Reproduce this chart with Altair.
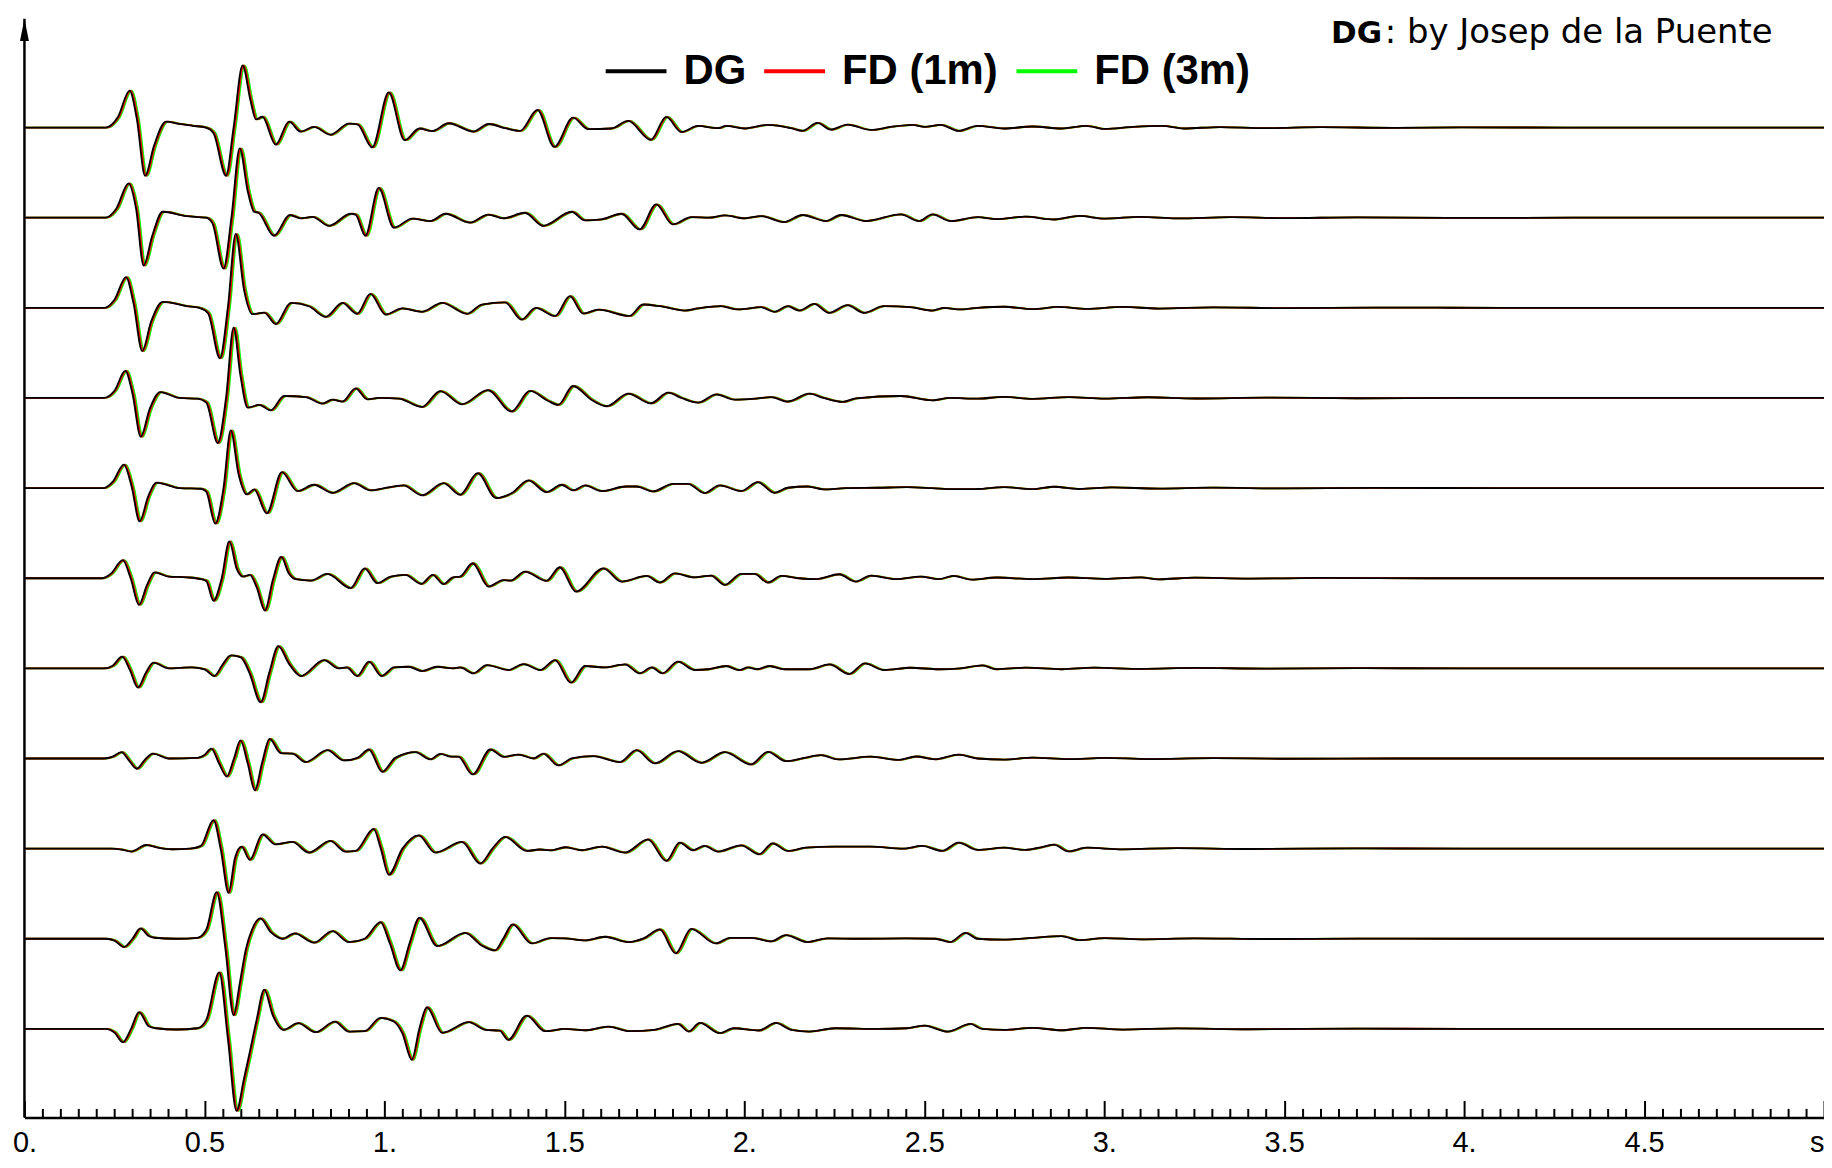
import altair as alt
import pandas as pd

# ---------------- values ----------------
SERIES = ["DG", "FD (1m)", "FD (3m)"]
COLORS = ["#000000", "#ff0000", "#00ff00"]
# apparent delay of each series behind DG (s)
SERIES_LAG = [0.0, 0.003, 0.006]

X_LABEL_VALUES = [0, 0.5, 1, 1.5, 2, 2.5, 3, 3.5, 4, 4.5, 5]
X_MINOR_TICKS = [round(0.05 * i, 2) for i in range(101)]

# traces, top to bottom: (time s, amplitude in trace-spacing units)
TRACE_01 = [(0, 0), (0.225, 0), (0.26, 0.12), (0.292, 0.41), (0.312, 0.1), (0.335, -0.535), (0.36, -0.2),
            (0.393, 0.066), (0.43, 0.04), (0.467, 0.02), (0.504, 0.0), (0.525, -0.06), (0.56, -0.535),
            (0.581, 0.0), (0.606, 0.69), (0.628, 0.3), (0.643, 0.09), (0.661, 0.12), (0.698, -0.19),
            (0.735, 0.066), (0.767, -0.044), (0.804, 0.007), (0.85, -0.08), (0.901, 0.044), (0.925, 0.035),
            (0.966, -0.22), (1.012, 0.39), (1.056, -0.14), (1.097, -0.01), (1.132, -0.04), (1.178, 0.048),
            (1.247, -0.044), (1.289, 0.04), (1.335, -0.007), (1.377, -0.037), (1.425, 0.196), (1.472, -0.214),
            (1.524, 0.11), (1.566, -0.018), (1.63, -0.01), (1.677, 0.074), (1.74, -0.137), (1.783, 0.118),
            (1.825, -0.048), (1.871, 0.018), (1.926, -0.007), (1.949, 0.018), (2.0, -0.01), (2.065, 0.03),
            (2.13, -0.007), (2.161, -0.037), (2.203, 0.052), (2.24, -0.022), (2.286, 0.033), (2.351, -0.026),
            (2.406, 0.007), (2.467, 0.03), (2.5, 0.007), (2.545, 0.03), (2.595, -0.037), (2.647, 0.018),
            (2.72, -0.01), (2.8, 0.012), (2.88, -0.01), (2.95, 0.02), (3.0, -0.015), (3.08, 0.008),
            (3.16, 0.018), (3.22, -0.01), (3.32, 0.006), (3.45, -0.006), (3.6, 0.005), (3.8, -0.003),
            (4.0, 0.002), (4.3, 0.0), (5.0, 0.0)]
TRACE_02 = [(0, 0), (0.225, 0), (0.255, 0.1), (0.289, 0.38), (0.31, 0.1), (0.331, -0.53), (0.355, -0.2),
            (0.384, 0.066), (0.449, 0.018), (0.504, 0.0), (0.522, -0.06), (0.553, -0.565), (0.575, 0.0),
            (0.598, 0.77), (0.62, 0.3), (0.638, 0.066), (0.65, 0.055), (0.693, -0.2), (0.737, 0.03),
            (0.767, -0.007), (0.8, 0.01), (0.846, -0.09), (0.906, 0.044), (0.92, 0.035), (0.947, -0.2),
            (0.984, 0.33), (1.026, -0.11), (1.077, -0.01), (1.127, -0.037), (1.169, 0.044), (1.238, -0.055),
            (1.288, 0.035), (1.33, -0.007), (1.39, 0.055), (1.441, -0.09), (1.52, 0.066), (1.557, -0.03),
            (1.603, -0.018), (1.658, 0.044), (1.709, -0.13), (1.755, 0.148), (1.801, -0.074), (1.852, 0.007),
            (1.9, 0.0), (1.945, 0.026), (2.0, -0.007), (2.046, 0.018), (2.11, -0.048), (2.161, 0.03),
            (2.226, -0.037), (2.268, 0.03), (2.337, -0.037), (2.434, 0.037), (2.485, -0.037), (2.522, 0.037),
            (2.573, -0.037), (2.647, 0.007), (2.7, -0.015), (2.78, 0.012), (2.86, -0.02), (2.93, 0.02),
            (3.0, -0.01), (3.1, 0.01), (3.2, -0.008), (3.35, 0.006), (3.5, -0.005), (3.7, 0.004),
            (3.95, -0.002), (4.3, 0.0), (5.0, 0.0)]
TRACE_03 = [(0, 0), (0.222, 0), (0.25, 0.09), (0.282, 0.34), (0.303, 0.05), (0.327, -0.48), (0.352, -0.15),
            (0.384, 0.066), (0.45, 0.02), (0.486, 0.0), (0.51, -0.06), (0.543, -0.56), (0.565, 0.0),
            (0.587, 0.82), (0.61, 0.2), (0.633, -0.07), (0.666, -0.052), (0.698, -0.18), (0.74, 0.055),
            (0.79, 0.018), (0.837, -0.1), (0.883, 0.055), (0.924, -0.066), (0.961, 0.155), (1.003, -0.074),
            (1.049, -0.007), (1.104, -0.044), (1.16, 0.055), (1.229, -0.066), (1.27, 0.037), (1.335, 0.06),
            (1.381, -0.13), (1.42, 0.0), (1.474, -0.09), (1.515, 0.13), (1.552, -0.063), (1.594, -0.02),
            (1.681, -0.09), (1.718, 0.037), (1.765, 0.018), (1.834, -0.03), (1.87, -0.007), (1.935, 0.018),
            (1.981, -0.018), (2.046, 0.007), (2.083, -0.044), (2.12, 0.018), (2.152, -0.03), (2.194, 0.044),
            (2.235, -0.055), (2.286, 0.03), (2.332, -0.055), (2.387, 0.018), (2.46, 0.007), (2.522, -0.03),
            (2.555, 0.0), (2.592, -0.018), (2.647, 0.0), (2.72, 0.012), (2.8, -0.015), (2.87, 0.01),
            (2.95, -0.012), (3.05, 0.01), (3.15, -0.008), (3.3, 0.006), (3.5, -0.004), (3.75, 0.003),
            (4.1, 0.0), (5.0, 0.0)]
TRACE_04 = [(0, 0), (0.22, 0), (0.25, 0.08), (0.28, 0.3), (0.3, 0.05), (0.323, -0.43), (0.348, -0.12),
            (0.377, 0.066), (0.43, 0.0), (0.48, -0.007), (0.505, -0.05), (0.537, -0.5), (0.56, 0.0),
            (0.581, 0.78), (0.6, 0.25), (0.62, -0.107), (0.652, -0.077), (0.684, -0.137), (0.721, 0.022),
            (0.781, 0.01), (0.827, -0.063), (0.855, -0.018), (0.883, -0.04), (0.92, 0.107), (0.952, -0.015),
            (0.985, 0.0), (1.04, -0.007), (1.104, -0.1), (1.155, 0.077), (1.215, -0.07), (1.287, 0.088),
            (1.353, -0.15), (1.404, 0.078), (1.455, -0.033), (1.483, -0.077), (1.524, 0.133), (1.575, -0.02),
            (1.617, -0.092), (1.677, 0.048), (1.74, -0.059), (1.788, 0.059), (1.825, 0.0), (1.871, -0.052),
            (1.922, 0.04), (1.972, -0.018), (2.03, -0.007), (2.074, 0.01), (2.12, -0.04), (2.18, 0.048),
            (2.22, 0.0), (2.272, -0.044), (2.31, -0.004), (2.434, 0.022), (2.522, -0.026), (2.57, 0.0),
            (2.647, -0.007), (2.72, 0.012), (2.8, -0.01), (2.9, 0.01), (3.0, -0.008), (3.12, 0.008),
            (3.25, -0.006), (3.45, 0.004), (3.7, -0.003), (4.0, 0.0), (5.0, 0.0)]
TRACE_05 = [(0, 0), (0.218, 0), (0.245, 0.07), (0.276, 0.26), (0.297, 0.03), (0.32, -0.37), (0.343, -0.1),
            (0.366, 0.06), (0.43, 0.0), (0.49, -0.007), (0.505, -0.04), (0.53, -0.395), (0.553, 0.0),
            (0.573, 0.64), (0.595, 0.15), (0.617, -0.07), (0.638, -0.015), (0.673, -0.28), (0.715, 0.177),
            (0.758, -0.033), (0.804, 0.037), (0.855, -0.052), (0.915, 0.055), (0.961, -0.026), (1.0, 0.0),
            (1.053, 0.03), (1.104, -0.08), (1.164, 0.055), (1.21, -0.074), (1.259, 0.166), (1.31, -0.11),
            (1.354, -0.055), (1.4, 0.085), (1.45, -0.044), (1.492, 0.037), (1.524, -0.026), (1.557, 0.03),
            (1.603, -0.033), (1.67, 0.018), (1.7, 0.018), (1.746, -0.037), (1.801, 0.048), (1.843, 0.048),
            (1.889, -0.055), (1.931, 0.03), (1.991, -0.033), (2.037, 0.066), (2.083, -0.052), (2.12, 0.004),
            (2.175, 0.018), (2.22, -0.015), (2.28, 0.0), (2.37, 0.004), (2.45, 0.01), (2.52, 0.0),
            (2.58, -0.012), (2.647, -0.01), (2.72, 0.01), (2.8, -0.012), (2.86, 0.015), (2.93, -0.01),
            (3.02, 0.008), (3.15, -0.006), (3.3, 0.005), (3.5, -0.004), (3.75, 0.002), (4.1, 0.0), (5.0, 0.0)]
TRACE_06 = [(0, 0), (0.215, 0), (0.24, 0.05), (0.273, 0.2), (0.295, 0.0), (0.318, -0.295), (0.34, -0.08),
            (0.361, 0.066), (0.4, 0.018), (0.45, 0.01), (0.49, -0.01), (0.505, -0.03), (0.525, -0.25),
            (0.548, 0.0), (0.569, 0.41), (0.59, 0.1), (0.606, 0.018), (0.626, 0.037), (0.645, -0.1),
            (0.668, -0.36), (0.69, -0.02), (0.713, 0.236), (0.735, 0.05), (0.753, -0.01), (0.795, -0.026),
            (0.841, 0.048), (0.906, -0.11), (0.945, 0.11), (0.98, -0.055), (1.017, 0.018), (1.058, 0.037),
            (1.102, -0.063), (1.134, 0.037), (1.164, -0.066), (1.19, 0.01), (1.21, 0.018), (1.245, 0.166),
            (1.289, -0.092), (1.33, -0.02), (1.35, -0.026), (1.39, 0.074), (1.45, -0.03), (1.487, 0.122),
            (1.532, -0.148), (1.608, 0.11), (1.658, -0.037), (1.728, 0.026), (1.765, -0.048), (1.806, 0.055),
            (1.86, 0.01), (1.907, 0.03), (1.945, -0.074), (1.991, 0.048), (2.028, 0.048), (2.065, -0.048),
            (2.102, 0.026), (2.15, 0.0), (2.2, -0.01), (2.263, 0.044), (2.309, -0.037), (2.351, 0.03),
            (2.42, -0.01), (2.489, 0.018), (2.54, -0.01), (2.58, 0.026), (2.63, -0.015), (2.7, 0.008),
            (2.8, -0.01), (2.9, 0.008), (3.0, -0.006), (3.1, 0.01), (3.15, -0.012), (3.25, 0.006),
            (3.4, -0.004), (3.6, 0.003), (3.9, 0.0), (5.0, 0.0)]
TRACE_07 = [(0, 0), (0.22, 0), (0.245, 0.03), (0.271, 0.13), (0.293, -0.02), (0.315, -0.214), (0.337, -0.05),
            (0.358, 0.063), (0.4, 0.0), (0.463, 0.01), (0.5, -0.01), (0.527, -0.085), (0.55, 0.04),
            (0.573, 0.144), (0.601, 0.122), (0.625, -0.05), (0.656, -0.376), (0.68, -0.05), (0.705, 0.247),
            (0.735, 0.05), (0.767, -0.085), (0.832, 0.092), (0.873, 0.0), (0.895, 0.01), (0.924, -0.085),
            (0.957, 0.074), (0.992, -0.085), (1.026, 0.01), (1.067, 0.018), (1.104, -0.03), (1.146, 0.018),
            (1.19, 0.0), (1.21, 0.01), (1.247, -0.055), (1.284, 0.037), (1.344, -0.018), (1.386, 0.048),
            (1.432, -0.018), (1.474, 0.092), (1.518, -0.159), (1.557, 0.026), (1.61, 0.01), (1.668, 0.044),
            (1.709, -0.055), (1.742, 0.011), (1.772, -0.055), (1.815, 0.074), (1.861, -0.018), (1.9, -0.01),
            (1.949, 0.026), (1.985, -0.02), (2.01, 0.01), (2.035, -0.01), (2.069, 0.026), (2.11, -0.01),
            (2.18, -0.01), (2.236, 0.044), (2.291, -0.063), (2.334, 0.055), (2.388, -0.018), (2.46, 0.007),
            (2.54, -0.01), (2.6, 0.0), (2.661, 0.033), (2.7, -0.01), (2.78, 0.008), (2.88, -0.01),
            (2.97, 0.008), (3.1, -0.006), (3.25, 0.005), (3.45, -0.003), (3.7, 0.002), (4.0, 0.0), (5.0, 0.0)]
TRACE_08 = [(0, 0), (0.22, 0), (0.245, 0.02), (0.269, 0.07), (0.29, -0.02), (0.312, -0.114), (0.333, -0.02),
            (0.356, 0.055), (0.4, 0.0), (0.48, 0.007), (0.5, 0.04), (0.519, 0.11), (0.54, -0.05),
            (0.562, -0.2), (0.582, 0.0), (0.6, 0.2), (0.62, -0.05), (0.64, -0.354), (0.66, -0.05),
            (0.681, 0.218), (0.712, 0.06), (0.744, 0.055), (0.781, -0.04), (0.841, 0.092), (0.887, -0.022),
            (0.925, 0.007), (0.957, 0.1), (0.994, -0.148), (1.03, 0.007), (1.086, 0.07), (1.127, -0.01),
            (1.155, 0.052), (1.185, 0.02), (1.205, 0.02), (1.245, -0.177), (1.294, 0.1), (1.331, 0.018),
            (1.372, 0.044), (1.414, 0.0), (1.441, 0.055), (1.483, -0.077), (1.52, 0.0), (1.58, 0.026),
            (1.654, -0.04), (1.7, 0.092), (1.751, -0.055), (1.815, 0.081), (1.88, -0.048), (1.945, 0.07),
            (2.018, -0.066), (2.065, 0.074), (2.115, -0.03), (2.16, 0.0), (2.212, 0.037), (2.26, -0.01),
            (2.35, 0.02), (2.43, -0.015), (2.476, 0.022), (2.53, -0.01), (2.595, 0.044), (2.647, 0.0),
            (2.72, -0.012), (2.8, 0.01), (2.9, -0.008), (3.0, 0.007), (3.12, -0.006), (3.3, 0.004),
            (3.5, -0.003), (3.8, 0.0), (5.0, 0.0)]
TRACE_09 = [(0, 0), (0.24, 0), (0.27, -0.01), (0.296, -0.033), (0.338, 0.04), (0.37, 0.01), (0.407, -0.007),
            (0.46, 0.0), (0.49, 0.03), (0.525, 0.317), (0.545, 0.0), (0.567, -0.49), (0.585, -0.1),
            (0.603, 0.022), (0.626, -0.125), (0.661, 0.159), (0.696, 0.048), (0.744, 0.074), (0.79, -0.044),
            (0.849, 0.085), (0.892, -0.033), (0.92, -0.025), (0.97, 0.22), (0.99, 0.0), (1.012, -0.29),
            (1.05, 0.0), (1.095, 0.148), (1.141, -0.044), (1.215, 0.074), (1.266, -0.166), (1.3, 0.0),
            (1.335, 0.13), (1.395, -0.026), (1.43, -0.01), (1.46, -0.02), (1.502, 0.015), (1.548, -0.018),
            (1.603, 0.022), (1.668, -0.044), (1.732, 0.103), (1.783, -0.137), (1.82, 0.066), (1.857, -0.018),
            (1.889, 0.03), (1.926, -0.033), (1.991, 0.037), (2.041, -0.063), (2.078, 0.059), (2.12, -0.026),
            (2.17, 0.01), (2.25, 0.022), (2.35, 0.022), (2.44, 0.0), (2.494, 0.03), (2.549, -0.026),
            (2.595, 0.066), (2.647, -0.015), (2.72, 0.01), (2.78, -0.015), (2.83, 0.02), (2.86, 0.045),
            (2.9, -0.03), (2.95, 0.01), (3.05, -0.008), (3.2, 0.006), (3.4, -0.004), (3.7, 0.002),
            (4.0, 0.0), (5.0, 0.0)]
TRACE_10 = [(0, 0), (0.225, 0), (0.25, -0.02), (0.276, -0.092), (0.3, 0.0), (0.322, 0.114), (0.345, 0.03),
            (0.361, 0.011), (0.42, 0.0), (0.48, 0.01), (0.505, 0.1), (0.534, 0.517), (0.558, -0.1),
            (0.581, -0.85), (0.598, -0.5), (0.615, -0.118), (0.632, 0.1), (0.655, 0.225), (0.685, 0.07),
            (0.717, 0.0), (0.75, 0.059), (0.804, -0.044), (0.855, 0.085), (0.901, -0.037), (0.945, 0.0),
            (0.989, 0.185), (1.015, -0.05), (1.044, -0.35), (1.07, -0.05), (1.097, 0.232), (1.146, -0.081),
            (1.224, 0.066), (1.27, -0.074), (1.307, -0.13), (1.33, 0.0), (1.356, 0.159), (1.409, -0.052),
            (1.46, 0.007), (1.5, 0.004), (1.557, -0.018), (1.612, 0.022), (1.677, -0.037), (1.72, 0.004),
            (1.765, 0.103), (1.809, -0.162), (1.852, 0.11), (1.92, -0.052), (1.96, 0.01), (2.02, 0.01),
            (2.074, -0.03), (2.115, 0.04), (2.175, -0.037), (2.23, 0.004), (2.32, 0.0), (2.45, 0.004),
            (2.53, 0.0), (2.572, -0.037), (2.614, 0.066), (2.647, 0.0), (2.72, -0.01), (2.8, 0.01),
            (2.88, 0.03), (2.93, -0.015), (3.0, 0.008), (3.1, -0.006), (3.25, 0.005), (3.45, -0.003),
            (3.7, 0.002), (4.0, 0.0), (5.0, 0.0)]
TRACE_11 = [(0, 0), (0.225, 0), (0.25, -0.04), (0.273, -0.148), (0.296, 0.0), (0.318, 0.185), (0.345, 0.03),
            (0.365, 0.007), (0.42, -0.007), (0.48, 0.007), (0.505, 0.1), (0.541, 0.627), (0.565, -0.1),
            (0.589, -0.91), (0.61, -0.55), (0.624, -0.295), (0.645, 0.1), (0.666, 0.435), (0.69, 0.15),
            (0.719, -0.011), (0.76, 0.063), (0.809, -0.037), (0.862, 0.081), (0.901, -0.03), (0.945, -0.025),
            (0.989, 0.122), (1.026, 0.081), (1.05, -0.05), (1.076, -0.343), (1.097, 0.0), (1.118, 0.24),
            (1.16, -0.044), (1.234, 0.074), (1.28, -0.01), (1.32, -0.02), (1.344, -0.122), (1.395, 0.148),
            (1.446, -0.026), (1.5, 0.0), (1.56, -0.015), (1.621, 0.026), (1.681, -0.026), (1.75, -0.01),
            (1.815, 0.055), (1.845, -0.03), (1.876, 0.066), (1.931, -0.048), (1.97, 0.007), (2.04, -0.018),
            (2.087, 0.066), (2.13, -0.01), (2.18, -0.03), (2.25, 0.007), (2.37, 0.0), (2.45, 0.007),
            (2.5, 0.037), (2.564, -0.03), (2.628, 0.055), (2.66, 0.0), (2.72, -0.012), (2.8, 0.012),
            (2.88, -0.015), (2.95, 0.012), (3.05, -0.008), (3.2, 0.006), (3.4, -0.004), (3.7, 0.002),
            (4.0, 0.0), (5.0, 0.0)]

TRACES = [TRACE_01, TRACE_02, TRACE_03, TRACE_04, TRACE_05, TRACE_06,
          TRACE_07, TRACE_08, TRACE_09, TRACE_10, TRACE_11]

TITLE_BOLD = "DG"
TITLE_REST = ": by Josep de la Puente"

# ---------------- layout ----------------
W, H = 1805, 1102
Y_MIN, Y_MAX = 0.018, 12.208
LABEL_FONT = "Liberation Sans, Arial, sans-serif"

rows = []
for k, tr in enumerate(TRACES):
    for t, a in tr:
        rows.append({"trace": k + 1, "t": t, "amp": a, "offset": len(TRACES) - k})
df = pd.DataFrame(rows)

xscale = alt.Scale(domain=[0, 5], nice=False, zero=False)
yscale = alt.Scale(domain=[Y_MIN, Y_MAX], nice=False, zero=False)
cscale = alt.Scale(domain=SERIES, range=COLORS)

legend = alt.Legend(
    orient="none", legendX=581, legendY=20, direction="horizontal", title=None,
    symbolType="stroke", symbolSize=3721, symbolStrokeWidth=4, symbolOpacity=1,
    labelFont="Liberation Sans, Arial, sans-serif", labelFontWeight="bold", labelFontSize=42,
    labelColor="black", labelOffset=15, columnPadding=10, labelLimit=0, padding=0,
)

label_axis = alt.Axis(
    orient="bottom", values=X_LABEL_VALUES, ticks=False, tickSize=0, grid=False, title=None,
    domain=True, domainColor="black", domainWidth=2.5,
    labelExpr="datum.value == 5 ? 's' : (datum.value % 1 == 0 ? format(datum.value, 'd') + '.' : format(datum.value, '.1f'))",
    labelFont=LABEL_FONT, labelFontSize=29, labelColor="black", labelPadding=11,
    labelAlign={"expr": "datum.value == 5 ? 'right' : 'center'"},
)
tick_axis = alt.Axis(
    orient="top", offset=-H, values=X_MINOR_TICKS, labels=False, domain=False, grid=False,
    title=None, tickColor="black", tickWidth=2,
    tickSize=alt.ConditionalAxisNumber(
        condition={"test": "abs(round(datum.value * 2) - datum.value * 2) < 1e-6", "value": 17},
        value=9),
)

base = alt.Chart(df)


def series_layer(i, xaxis):
    return base.mark_line(interpolate="monotone", strokeWidth=1.8, clip=True).transform_calculate(
        tt=f"datum.t + {SERIES_LAG[i]}",
        yy="datum.offset + datum.amp",
        series=f"'{SERIES[i]}'",
    ).encode(
        x=alt.X("tt:Q", scale=xscale, axis=xaxis),
        y=alt.Y("yy:Q", scale=yscale, axis=None),
        color=alt.Color("series:N", scale=cscale, legend=legend),
        detail="trace:N",
    )


green = series_layer(2, tick_axis)
red = series_layer(1, None)
black = series_layer(0, label_axis)

# vertical axis line with its arrow head
y_line = alt.Chart(pd.DataFrame({"x": [0], "y0": [Y_MIN], "y1": [Y_MAX]})).mark_rule(
    color="black", strokeWidth=2.5
).encode(x=alt.X("x:Q", scale=xscale, axis=None), y=alt.Y("y0:Q", scale=yscale, axis=None), y2="y1:Q")

arrow = alt.Chart(pd.DataFrame({"x": [0], "y": [Y_MAX]})).mark_point(
    shape="M0,0L0.4,2L-0.4,2Z", filled=True, size=500, color="black", opacity=1
).encode(x=alt.X("x:Q", scale=xscale, axis=None), y=alt.Y("y:Q", scale=yscale, axis=None))

title_df = pd.DataFrame({"bold": [TITLE_BOLD], "rest": [TITLE_REST]})
title_bold = alt.Chart(title_df).mark_text(
    align="left", baseline="alphabetic", font="DejaVu Sans", fontSize=31, fontWeight="bold", color="black"
).encode(text="bold:N", x=alt.value(1310.5), y=alt.value(24))
title_rest = alt.Chart(title_df).mark_text(
    align="left", baseline="alphabetic", font="DejaVu Sans", fontSize=34, color="black"
).encode(text="rest:N", x=alt.value(1364.5), y=alt.value(24))

chart = alt.layer(green, red, black, y_line, arrow, title_bold, title_rest).resolve_axis(
    x="independent"
).properties(
    width=W, height=H,
    padding={"left": 16.5, "top": 9, "right": 0, "bottom": 41},
    autosize=alt.AutoSizeParams(type="none"),
    background="white",
).configure_view(stroke=None)

chart.save("out.html", embed_options={"renderer": "svg", "actions": False})
